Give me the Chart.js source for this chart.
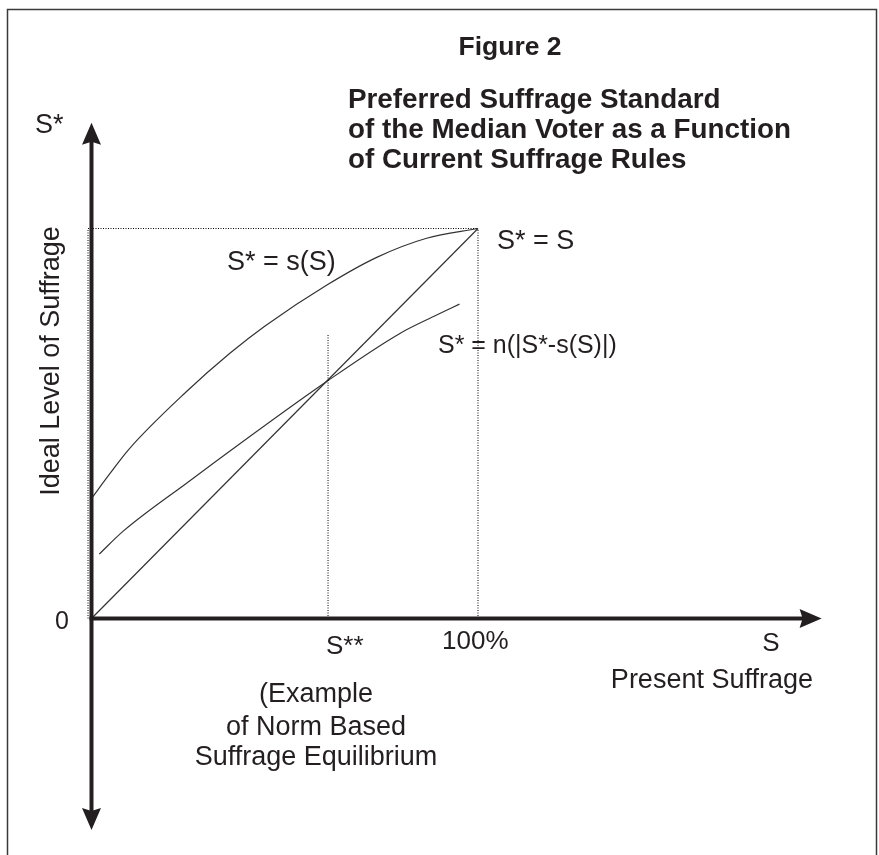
<!DOCTYPE html>
<html>
<head>
<meta charset="utf-8">
<script src="https://cdn.jsdelivr.net/npm/chart.js@4.4.1/dist/chart.umd.min.js"></script>
<style>
  html, body { margin: 0; padding: 0; background: #ffffff; }
  #wrap { width: 879px; height: 855px; position: relative; }
  canvas { display: block; }
</style>
</head>
<body>
<div id="wrap"><canvas id="c" width="879" height="855"></canvas></div>
<script>
// ---- Data (S on x, S* on y, in % of full suffrage) ----
const sCurveX = [0, 4.8, 9.5, 24.6, 35.8, 44.9, 60.9, 73.8, 86.7, 100];
const sCurveY = [30.8, 37.2, 43.2, 58.2, 68.0, 75.0, 85.5, 92.6, 97.5, 100];
const nCurveX = [2.0, 8.2, 24.6, 61.2, 79.8, 89.3, 95.2];
const nCurveY = [16.5, 22.4, 34.7, 61.0, 73.1, 77.8, 80.6];
const diagX = [0, 100];
const diagY = [0, 100];
const equilibriumS = 61.2;      // S**
const equilibriumGuideTop = 72.7;
const fullSuffrage = 100;       // 100%
const leftGuideX = -0.9;
const xAxisTip = 188.9;
const yAxisTopTip = 127.1;
const yAxisBottomTip = -54.2;

const zip = (xs, ys) => xs.map((x, i) => ({ x, y: ys[i] }));

const INK = '#231f20';
const CURVE = '#333333';
const FONT = '"Liberation Sans", Arial, Helvetica, sans-serif';

// text annotations (pixel layout)
const texts = [
  { t: 'Figure 2', x: 510, y: 55, size: 25, bold: true, align: 'center', sx: 1.06 },
  { t: 'Preferred Suffrage Standard', x: 348, y: 108, size: 27, bold: true, align: 'left', sx: 1.03 },
  { t: 'of the Median Voter as a Function', x: 348, y: 138, size: 27, bold: true, align: 'left', sx: 1.03 },
  { t: 'of Current Suffrage Rules', x: 348, y: 168, size: 27, bold: true, align: 'left', sx: 1.03 },
  { t: 'S*', x: 35, y: 133, size: 27, align: 'left' },
  { t: 'S* = s(S)', x: 227, y: 270, size: 27, align: 'left' },
  { t: 'S* = S', x: 497, y: 249, size: 27, align: 'left' },
  { t: 'S* = n(|S*-s(S)|)', x: 438, y: 353, size: 26, align: 'left', sx: 0.96 },
  { t: '0', x: 62, y: 629, size: 25, align: 'center' },
  { t: 'S**', x: 326, y: 654, size: 26, align: 'left' },
  { t: '100%', x: 442, y: 649, size: 26, align: 'left' },
  { t: 'S', x: 771, y: 651, size: 26, align: 'center' },
  { t: 'Present Suffrage', x: 813, y: 688, size: 27, align: 'right' },
  { t: '(Example', x: 316, y: 702, size: 27, align: 'center' },
  { t: 'of Norm Based', x: 316, y: 735, size: 27, align: 'center' },
  { t: 'Suffrage Equilibrium', x: 316, y: 765, size: 27, align: 'center' },
];

function drawText(ctx, o) {
  ctx.save();
  ctx.fillStyle = INK;
  ctx.font = (o.bold ? 'bold ' : '') + o.size + 'px ' + FONT;
  ctx.textAlign = o.align;
  ctx.textBaseline = 'alphabetic';
  ctx.translate(o.x, o.y);
  if (o.rot) ctx.rotate(o.rot);
  ctx.scale(o.sx || 1, 1);
  ctx.fillText(o.t, 0, 0);
  ctx.restore();
}

function arrowHead(ctx, tipX, tipY, dx, dy, len, half) {
  const bx = tipX - dx * len, by = tipY - dy * len;
  const nx = -dy, ny = dx;
  const notch = 3;
  ctx.beginPath();
  ctx.moveTo(tipX, tipY);
  ctx.lineTo(bx + nx * half, by + ny * half);
  ctx.lineTo(bx + dx * notch, by + dy * notch);
  ctx.lineTo(bx - nx * half, by - ny * half);
  ctx.closePath();
  ctx.fill();
}

const decor = {
  id: 'decor',
  beforeDraw(chart) {
    const ctx = chart.ctx;
    ctx.save();
    ctx.fillStyle = '#ffffff';
    ctx.fillRect(0, 0, chart.width, chart.height);
    ctx.strokeStyle = '#3a3a3a';
    ctx.lineWidth = 1.5;
    ctx.beginPath();
    ctx.moveTo(7.5, 870);
    ctx.lineTo(7.5, 9.5);
    ctx.lineTo(876.5, 9.5);
    ctx.lineTo(876.5, 870);
    ctx.stroke();
    ctx.restore();
  },
  afterDatasetsDraw(chart) {
    const ctx = chart.ctx;
    const xs = chart.scales.x, ys = chart.scales.y;
    const x0 = xs.getPixelForValue(0), y0 = ys.getPixelForValue(0);
    const xTip = xs.getPixelForValue(xAxisTip);
    const yTop = ys.getPixelForValue(yAxisTopTip);
    const yBot = ys.getPixelForValue(yAxisBottomTip);
    ctx.save();
    ctx.strokeStyle = INK;
    ctx.fillStyle = INK;
    ctx.lineWidth = 4;
    ctx.lineCap = 'butt';
    ctx.beginPath();
    ctx.moveTo(x0, yTop + 18);
    ctx.lineTo(x0, yBot - 18);
    ctx.stroke();
    ctx.beginPath();
    ctx.moveTo(x0 - 2, y0);
    ctx.lineTo(xTip - 18, y0);
    ctx.stroke();
    arrowHead(ctx, x0, yTop, 0, -1, 22, 9.5);
    arrowHead(ctx, x0, yBot, 0, 1, 22, 9.5);
    arrowHead(ctx, xTip, y0, 1, 0, 22, 9.5);
    ctx.restore();

    texts.forEach(o => drawText(ctx, o));
    drawText(ctx, { t: 'Ideal Level of Suffrage', x: 59, y: 361, size: 27, align: 'center', rot: -Math.PI / 2 });
  }
};

const dotted = (pts) => ({
  data: pts, showLine: true, borderColor: '#000000', borderWidth: 1,
  borderDash: [1, 1.5], pointRadius: 0, tension: 0
});

new Chart(document.getElementById('c'), {
  type: 'scatter',
  data: {
    datasets: [
      dotted([{ x: leftGuideX, y: fullSuffrage }, { x: fullSuffrage, y: fullSuffrage }]),
      dotted([{ x: fullSuffrage, y: 0 }, { x: fullSuffrage, y: fullSuffrage }]),
      dotted([{ x: leftGuideX, y: 0 }, { x: leftGuideX, y: fullSuffrage }]),
      dotted([{ x: equilibriumS, y: 0 }, { x: equilibriumS, y: equilibriumGuideTop }]),
      {
        label: 'S* = s(S)', data: zip(sCurveX, sCurveY), showLine: true,
        borderColor: CURVE, borderWidth: 1.2, pointRadius: 0, cubicInterpolationMode: 'monotone'
      },
      {
        label: 'S* = n(|S*-s(S)|)', data: zip(nCurveX, nCurveY), showLine: true,
        borderColor: CURVE, borderWidth: 1.2, pointRadius: 0, cubicInterpolationMode: 'monotone'
      },
      {
        label: 'S* = S', data: zip(diagX, diagY), showLine: true,
        borderColor: CURVE, borderWidth: 1.2, pointRadius: 0, tension: 0
      }
    ]
  },
  options: {
    responsive: false,
    animation: false,
    devicePixelRatio: 1,
    layout: { padding: { left: 14.2, right: 14.5, top: 33.5, bottom: 2.5 } },
    scales: {
      x: { type: 'linear', display: false, min: -20, max: 200 },
      y: { type: 'linear', display: false, min: -60, max: 150 }
    },
    plugins: { legend: { display: false }, tooltip: { enabled: false }, title: { display: false } },
    elements: { point: { radius: 0 } }
  },
  plugins: [decor]
});
</script>
</body>
</html>
